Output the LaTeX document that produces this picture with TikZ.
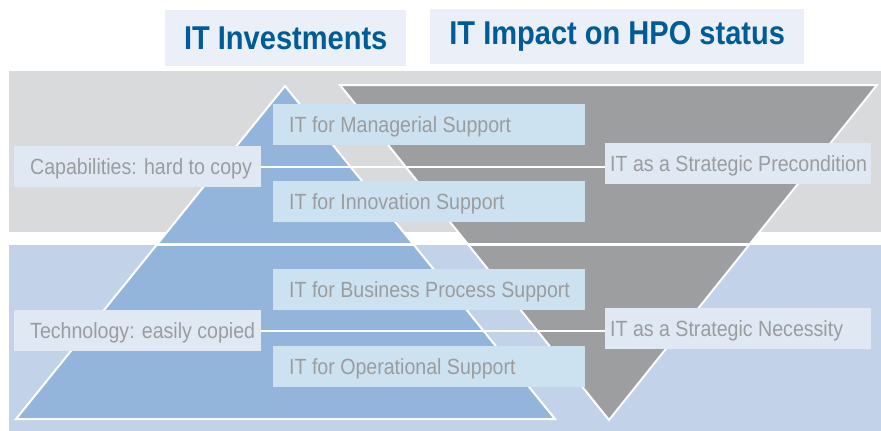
\documentclass[tikz,border=0pt]{standalone}
\usepackage{fontspec}
\usepackage{tikz}
\usetikzlibrary{positioning,calc}
\newfontfamily\labelFont[FakeStretch=0.89]{Liberation Sans}
\newfontfamily\titleFont[FakeStretch=0.88]{Liberation Sans}
\definecolor{titleBlue}{RGB}{0,91,150}
\definecolor{titleFill}{RGB}{234,239,248}
\definecolor{capabilityBand}{RGB}{217,218,220}
\definecolor{technologyBand}{RGB}{194,211,233}
\definecolor{pyramidBlue}{RGB}{147,181,219}
\definecolor{funnelGray}{RGB}{157,158,160}
\definecolor{supportFill}{RGB}{204,226,241}
\definecolor{sideFill}{RGB}{224,232,244}
\definecolor{labelGray}{RGB}{155,156,158}
\tikzstyle{diagram} = [x = 1pt, y = -1pt]
\tikzstyle{shapeStyle} = [draw=white, line width=2pt, line join=miter]
\tikzstyle{splitLine} = [color=white, line width=2.5pt]
\tikzstyle{linkLine} = [color=white, line width=2pt]
\tikzstyle{titleStyle} = [fill=titleFill, text=titleBlue, anchor=north west, inner sep=0pt, font=\titleFont\bfseries\fontsize{33}{36}\selectfont]
\tikzstyle{boxStyle} = [anchor=north west, minimum height=41pt, inner ysep=0pt, text height=16pt, text depth=0pt, align=flush left, text=labelGray, font=\labelFont\fontsize{22}{26}\selectfont]
\tikzstyle{supportStyle} = [boxStyle, fill=supportFill, inner xsep=16pt, text width=280pt]
\tikzstyle{leftStyle} = [boxStyle, fill=sideFill, inner xsep=16pt, text width=215pt]
\tikzstyle{rightStyle} = [boxStyle, fill=sideFill, inner xsep=5pt, text width=256pt]
\newcommand{\titleBox}[6]{\node [titleStyle, minimum width=#5, minimum height=#6] (#1) at (#2, #3) {#4};}
\newcommand{\supportBox}[3]{\node [supportStyle] (#1) at (273, #2) {\mbox{#3}};}
\newcommand{\leftBox}[3]{\node [leftStyle] (#1) at (14, #2) {\mbox{#3}};}
\newcommand{\rightBox}[3]{\node [rightStyle] (#1) at (605, #2) {\mbox{#3}};}
\newcommand{\splitAt}[4]{\draw [splitLine] ($(#1)!#4!(#2)$) -- ($(#1)!#4!(#3)$);}

\begin{document}
\begin{tikzpicture}[diagram]
          \useasboundingbox (0, 0) rectangle (881, 431);
          \fill [capabilityBand] (9, 71) rectangle (881, 232);
          \fill [technologyBand] (9, 245) rectangle (881, 431);

          \coordinate (pyramidTop) at (285, 86);
          \coordinate (pyramidLeft) at (16, 419);
          \coordinate (pyramidRight) at (555, 419);
          \coordinate (funnelLeft) at (340, 85);
          \coordinate (funnelRight) at (877, 85);
          \coordinate (funnelTip) at (609, 420);

          \filldraw [shapeStyle, fill=funnelGray] (funnelLeft) -- (funnelRight) -- (funnelTip) -- cycle;
          \filldraw [shapeStyle, fill=pyramidBlue] (pyramidTop) -- (pyramidRight) -- (pyramidLeft) -- cycle;
          \splitAt{pyramidTop}{pyramidLeft}{pyramidRight}{0.476}
          \draw [splitLine] ($(funnelLeft)!0.476!(funnelTip)$) -- ($(funnelRight)!0.476!(funnelTip)$);

          \titleBox{investTitle}{165}{10}{IT Investments}{241pt}{56pt}
          \titleBox{impactTitle}{430}{9}{IT Impact on HPO status}{374pt}{55pt}

          \supportBox{managerial}{104}{IT for Managerial Support}
          \supportBox{innovation}{181}{IT for Innovation Support}
          \supportBox{business}{269}{IT for Business Process Support}
          \supportBox{operational}{346}{IT for Operational Support}

          \leftBox{capabilities}{146}{Capabilities: hard to copy}
          \leftBox{technology}{310}{Technology: easily copied}
          \rightBox{precondition}{143}{IT as a Strategic Precondition}
          \rightBox{necessity}{308}{IT as a Strategic Necessity}

          \draw [linkLine] (capabilities.east) -- (capabilities.east -| precondition.west);
          \draw [linkLine] (technology.east) -- (technology.east -| necessity.west);
        \end{tikzpicture}
\end{document}
